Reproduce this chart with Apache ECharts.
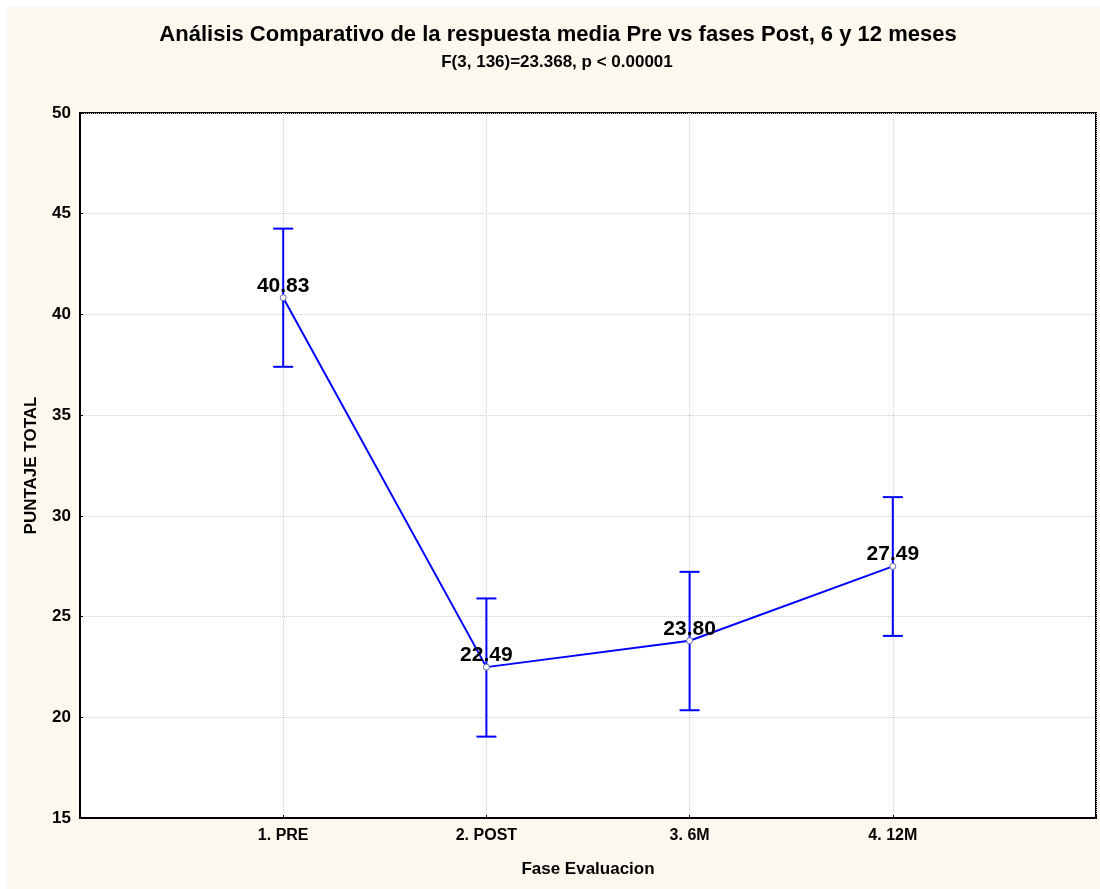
<!DOCTYPE html>
<html>
<head>
<meta charset="utf-8">
<script src="https://cdn.jsdelivr.net/npm/echarts@6/dist/echarts.min.js"></script>
<style>
  html, body { margin: 0; padding: 0; background: #fff; }
  #chart { position: absolute; left: 7px; top: 7px; width: 1093px; height: 882px; }
</style>
</head>
<body>
<div id="chart"></div>
<script>
// fases de evaluacion
var categories = ['1. PRE', '2. POST', '3. 6M', '4. 12M'];
var positions = [1, 2, 3, 4];
// medias
var means = [40.83, 22.49, 23.80, 27.49];
// limites de los intervalos (barras de error)
var upper = [44.26, 25.90, 27.22, 30.93];
var lower = [37.40, 19.04, 20.35, 24.04];
var yTicks = [15, 20, 25, 30, 35, 40, 45, 50];

var font = '"Liberation Sans", Arial, sans-serif';
var blue = '#0000ff';

var lineData = positions.map(function (p, i) { return [p, means[i]]; });
var errData = positions.map(function (p, i) { return [p, lower[i], upper[i]]; });

var myChart = echarts.init(document.getElementById('chart'), null, {renderer: 'canvas'});

var option = {
    backgroundColor: '#fdf8ee',
    animation: false,
    title: [
        {
            text: 'Análisis Comparativo de la respuesta media Pre vs fases Post, 6 y 12 meses',
            left: 546, top: 12, textAlign: 'center',
            textStyle: {fontFamily: font, fontWeight: 'bold', fontSize: 22, color: '#000'}
        },
        {
            text: 'F(3, 136)=23.368, p < 0.00001',
            left: 545, top: 42, textAlign: 'center',
            textStyle: {fontFamily: font, fontWeight: 'bold', fontSize: 17, color: '#000'}
        }
    ],
    grid: {
        left: 73, right: 4, top: 106, bottom: 71,
        show: true, backgroundColor: '#fff', borderColor: '#000', borderWidth: 2
    },
    xAxis: {
        type: 'value', min: 0, max: 5, interval: 1,
        name: 'Fase Evaluacion', nameLocation: 'middle', nameGap: 43,
        nameTextStyle: {fontFamily: font, fontWeight: 'bold', fontSize: 17, color: '#000'},
        axisLine: {show: true, onZero: false, lineStyle: {color: '#000', width: 2}},
        axisTick: {show: true, inside: true, length: 3, lineStyle: {color: '#000'}},
        axisLabel: {
            margin: 10, fontFamily: font, fontWeight: 'bold', fontSize: 16, color: '#000',
            formatter: function (v) {
                var i = positions.indexOf(v);
                return i >= 0 ? categories[i] : '';
            }
        },
        splitLine: {show: true, lineStyle: {color: '#cfcfcf', type: 'dotted', width: 1}}
    },
    yAxis: {
        type: 'value', min: yTicks[0], max: yTicks[yTicks.length - 1], interval: 5,
        name: 'PUNTAJE TOTAL', nameLocation: 'middle', nameGap: 40,
        nameTextStyle: {fontFamily: font, fontWeight: 'bold', fontSize: 17, color: '#000'},
        axisLine: {show: true, lineStyle: {color: '#000', width: 2}},
        axisTick: {show: true, inside: true, length: 3, lineStyle: {color: '#000'}},
        axisLabel: {margin: 9, fontFamily: font, fontWeight: 'bold', fontSize: 17, color: '#000'},
        splitLine: {show: true, lineStyle: {color: '#cfcfcf', type: 'dotted', width: 1}}
    },
    series: [
        {
            type: 'custom',
            z: 1,
            data: errData,
            renderItem: function (params, api) {
                var x = api.value(0);
                var lo = api.coord([x, api.value(1)]);
                var hi = api.coord([x, api.value(2)]);
                var cap = 10;
                var style = {stroke: blue, lineWidth: 2};
                return {
                    type: 'group',
                    children: [
                        {type: 'line', shape: {x1: lo[0], y1: lo[1], x2: hi[0], y2: hi[1]}, style: style},
                        {type: 'line', shape: {x1: hi[0] - cap, y1: hi[1], x2: hi[0] + cap, y2: hi[1]}, style: style},
                        {type: 'line', shape: {x1: lo[0] - cap, y1: lo[1], x2: lo[0] + cap, y2: lo[1]}, style: style}
                    ]
                };
            }
        },
        {
            type: 'line',
            z: 3,
            data: lineData,
            symbol: 'circle',
            symbolSize: 6,
            lineStyle: {color: blue, width: 2},
            itemStyle: {color: '#fff', borderColor: '#6a6ab0', borderWidth: 1},
            label: {
                show: true, position: 'top', distance: -2,
                fontFamily: font, fontWeight: 'bold', fontSize: 21, color: '#000',
                formatter: function (p) { return p.value[1].toFixed(2); }
            }
        }
    ]
};

myChart.setOption(option);
</script>
</body>
</html>
